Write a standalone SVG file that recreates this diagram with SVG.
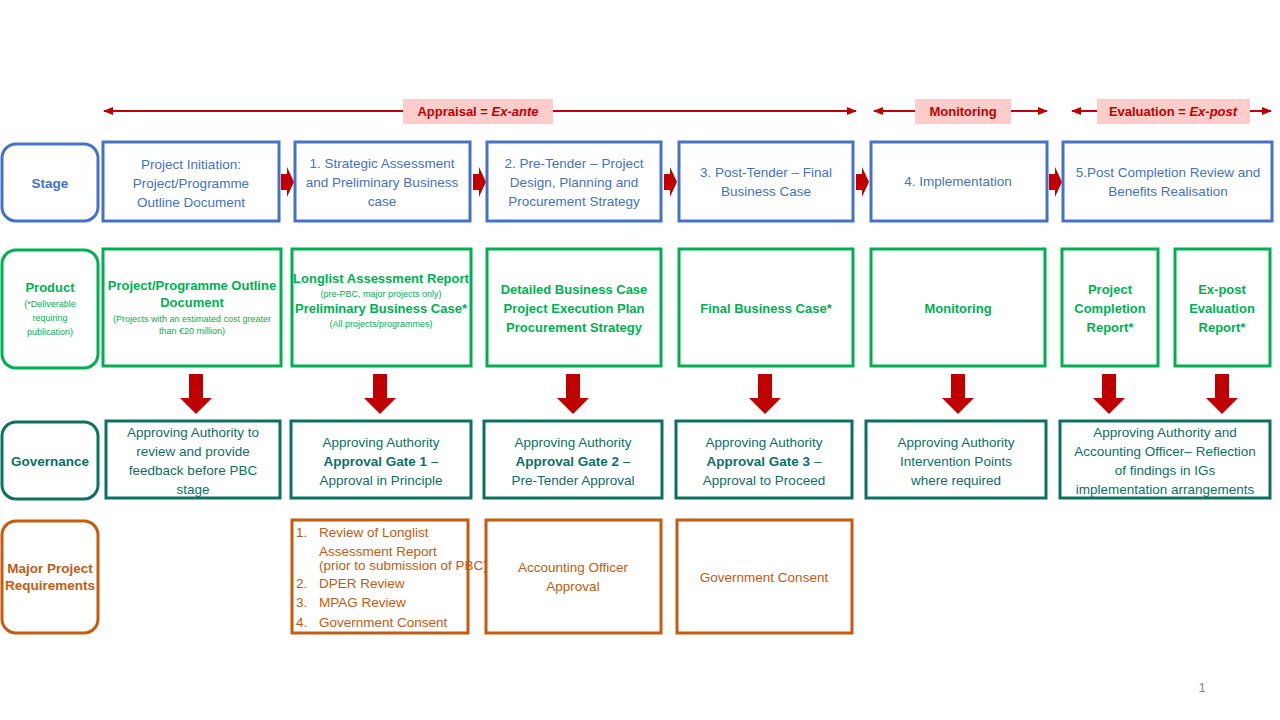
<svg xmlns="http://www.w3.org/2000/svg" width="1280" height="720" viewBox="0 0 1280 720">
<style>
text{font-family:"Liberation Sans",Arial,sans-serif;text-anchor:middle}
.b{fill:#fff;stroke:#4472C4;stroke-width:3}
.bt{fill:#4472C4;font-size:13.5px}
.g{fill:#fff;stroke:#00B050;stroke-width:3}
.gt{fill:#00B050;font-size:13px;font-weight:bold}
.gs{fill:#00B050;font-size:9px}
.t{fill:#fff;stroke:#0E7060;stroke-width:3}
.tt{fill:#0E7060;font-size:13.5px}
.o{fill:#fff;stroke:#C55A11;stroke-width:3}
.ot{fill:#C55A11;font-size:13.5px}
.lab{fill:#FFCCCC}
.lt{fill:#C00000;font-size:13px;font-weight:bold}
.ln{stroke:#C00000;stroke-width:2;fill:none;marker-start:url(#ah);marker-end:url(#ah)}
.ra{fill:#C00000}
</style>
<defs>
<marker id="ah" viewBox="0 0 10 10" refX="9" refY="5" markerWidth="5" markerHeight="5" orient="auto-start-reverse"><path d="M0,1 L10,5 L0,9 z" fill="#C00000"/></marker>
</defs>
<rect width="1280" height="720" fill="#fff"/>
<g id="connectors">
<line class="ln" x1="104" y1="111" x2="856" y2="111"/>
<line class="ln" x1="874" y1="111" x2="1047" y2="111"/>
<line class="ln" x1="1072" y1="111" x2="1271" y2="111"/>
<path class="ra" d="M281,174 h6 v-7 l7,15 l-7,15 v-7 h-6 z"/>
<path class="ra" d="M473,174 h6 v-7 l7,15 l-7,15 v-7 h-6 z"/>
<path class="ra" d="M664,174 h6 v-7 l7,15 l-7,15 v-7 h-6 z"/>
<path class="ra" d="M856,174 h6 v-7 l7,15 l-7,15 v-7 h-6 z"/>
<path class="ra" d="M1049,174 h6 v-7 l7,15 l-7,15 v-7 h-6 z"/>
<path class="ra" d="M189,374 h14 v24 h9 l-16,16 l-16,-16 h9 z"/>
<path class="ra" d="M373,374 h14 v24 h9 l-16,16 l-16,-16 h9 z"/>
<path class="ra" d="M566,374 h14 v24 h9 l-16,16 l-16,-16 h9 z"/>
<path class="ra" d="M758,374 h14 v24 h9 l-16,16 l-16,-16 h9 z"/>
<path class="ra" d="M951,374 h14 v24 h9 l-16,16 l-16,-16 h9 z"/>
<path class="ra" d="M1102,374 h14 v24 h9 l-16,16 l-16,-16 h9 z"/>
<path class="ra" d="M1215,374 h14 v24 h9 l-16,16 l-16,-16 h9 z"/>
</g>
<g id="phase-appraisal"><rect class="lab" x="403" y="99" width="150" height="25"/><text class="lt" x="478" y="116">Appraisal = <tspan font-style="italic">Ex-ante</tspan></text></g>
<g id="phase-monitoring"><rect class="lab" x="915" y="99" width="96" height="25"/><text class="lt" x="963" y="116">Monitoring</text></g>
<g id="phase-evaluation"><rect class="lab" x="1097" y="99" width="153" height="25"/><text class="lt" x="1173" y="116">Evaluation = <tspan font-style="italic">Ex-post</tspan></text></g>

<g id="lbl-stage"><rect class="b" x="2" y="144" width="96" height="77" rx="14"/><text class="bt" x="50" y="188" font-weight="bold" font-size="13">Stage</text></g>
<g id="stage1"><rect class="b" x="103" y="142" width="176" height="79"/><text class="bt" x="191" y="169">Project Initiation:</text><text class="bt" x="191" y="188">Project/Programme</text><text class="bt" x="191" y="207">Outline Document</text></g>
<g id="stage2"><rect class="b" x="295" y="142" width="175" height="79"/><text class="bt" x="382" y="168">1. Strategic Assessment</text><text class="bt" x="382" y="187">and Preliminary Business</text><text class="bt" x="382" y="206">case</text></g>
<g id="stage3"><rect class="b" x="487" y="142" width="174" height="79"/><text class="bt" x="574" y="168">2. Pre-Tender – Project</text><text class="bt" x="574" y="187">Design, Planning and</text><text class="bt" x="574" y="206">Procurement Strategy</text></g>
<g id="stage4"><rect class="b" x="679" y="142" width="174" height="79"/><text class="bt" x="766" y="177">3. Post-Tender – Final</text><text class="bt" x="766" y="196">Business Case</text></g>
<g id="stage5"><rect class="b" x="871" y="142" width="176" height="79"/><text class="bt" x="958" y="186">4. Implementation</text></g>
<g id="stage6"><rect class="b" x="1063" y="142" width="209" height="79"/><text class="bt" x="1168" y="177">5.Post Completion Review and</text><text class="bt" x="1168" y="196">Benefits Realisation</text></g>

<g id="lbl-product"><rect class="g" x="2" y="250" width="96" height="118" rx="14"/><text class="gt" x="50" y="292">Product</text><text class="gs" x="50" y="307" font-size="10.5">(*Deliverable</text><text class="gs" x="50" y="321" font-size="10.5">requiring</text><text class="gs" x="50" y="335" font-size="10.5">publication)</text></g>
<g id="prod1"><rect class="g" x="103" y="249" width="178" height="117"/><text class="gt" x="192" y="290">Project/Programme Outline</text><text class="gt" x="192" y="307">Document</text><text class="gs" x="192" y="322">(Projects with an estimated cost greater</text><text class="gs" x="192" y="334">than €20 million)</text></g>
<g id="prod2"><rect class="g" x="292" y="249" width="179" height="117"/><text class="gt" x="381" y="283">Longlist Assessment Report</text><text class="gs" x="381" y="297">(pre-PBC, major projects only)</text><text class="gt" x="381" y="313">Preliminary Business Case*</text><text class="gs" x="381" y="327">(All projects/programmes)</text></g>
<g id="prod3"><rect class="g" x="487" y="249" width="174" height="117"/><text class="gt" x="574" y="294">Detailed Business Case</text><text class="gt" x="574" y="313">Project Execution Plan</text><text class="gt" x="574" y="332">Procurement Strategy</text></g>
<g id="prod4"><rect class="g" x="679" y="249" width="174" height="117"/><text class="gt" x="766" y="313">Final Business Case*</text></g>
<g id="prod5"><rect class="g" x="871" y="249" width="174" height="117"/><text class="gt" x="958" y="313">Monitoring</text></g>
<g id="prod6"><rect class="g" x="1062" y="249" width="96" height="117"/><text class="gt" x="1110" y="294">Project</text><text class="gt" x="1110" y="313">Completion</text><text class="gt" x="1110" y="332">Report*</text></g>
<g id="prod7"><rect class="g" x="1175" y="249" width="95" height="117"/><text class="gt" x="1222" y="294">Ex-post</text><text class="gt" x="1222" y="313">Evaluation</text><text class="gt" x="1222" y="332">Report*</text></g>

<g id="lbl-governance"><rect class="t" x="2" y="422" width="96" height="77" rx="14"/><text class="tt" x="50" y="466" font-weight="bold" font-size="13">Governance</text></g>
<g id="gov1"><rect class="t" x="106" y="421" width="174" height="77"/><text class="tt" x="193" y="437">Approving Authority to</text><text class="tt" x="193" y="456">review and provide</text><text class="tt" x="193" y="475">feedback before PBC</text><text class="tt" x="193" y="494">stage</text></g>
<g id="gov2"><rect class="t" x="291" y="421" width="180" height="77"/><text class="tt" x="381" y="447">Approving Authority</text><text class="tt" x="381" y="466"><tspan font-weight="bold">Approval Gate 1</tspan> –</text><text class="tt" x="381" y="485">Approval in Principle</text></g>
<g id="gov3"><rect class="t" x="484" y="421" width="178" height="77"/><text class="tt" x="573" y="447">Approving Authority</text><text class="tt" x="573" y="466"><tspan font-weight="bold">Approval Gate 2</tspan> –</text><text class="tt" x="573" y="485">Pre-Tender Approval</text></g>
<g id="gov4"><rect class="t" x="676" y="421" width="176" height="77"/><text class="tt" x="764" y="447">Approving Authority</text><text class="tt" x="764" y="466"><tspan font-weight="bold">Approval Gate 3</tspan> –</text><text class="tt" x="764" y="485">Approval to Proceed</text></g>
<g id="gov5"><rect class="t" x="866" y="421" width="180" height="77"/><text class="tt" x="956" y="447">Approving Authority</text><text class="tt" x="956" y="466">Intervention Points</text><text class="tt" x="956" y="485">where required</text></g>
<g id="gov6"><rect class="t" x="1060" y="421" width="210" height="77"/><text class="tt" x="1165" y="437">Approving Authority and</text><text class="tt" x="1165" y="456">Accounting Officer– Reflection</text><text class="tt" x="1165" y="475">of findings in IGs</text><text class="tt" x="1165" y="494">implementation arrangements</text></g>

<g id="lbl-major"><rect class="o" x="2" y="521" width="96" height="112" rx="14"/><text class="ot" x="50" y="573" font-weight="bold" font-size="12">Major Project</text><text class="ot" x="50" y="590" font-weight="bold" font-size="12">Requirements</text></g>
<g id="mpr2"><rect class="o" x="292" y="520" width="176" height="113"/>
<g style="text-anchor:start"><text class="ot" x="296" y="537" style="text-anchor:start">1.</text><text class="ot" x="319" y="537" style="text-anchor:start">Review of Longlist</text><text class="ot" x="319" y="556" style="text-anchor:start">Assessment Report</text><text class="ot" x="319" y="570" style="text-anchor:start" font-size="9">(prior to submission of PBC)</text><text class="ot" x="296" y="588" style="text-anchor:start">2.</text><text class="ot" x="319" y="588" style="text-anchor:start">DPER Review</text><text class="ot" x="296" y="607" style="text-anchor:start">3.</text><text class="ot" x="319" y="607" style="text-anchor:start">MPAG Review</text><text class="ot" x="296" y="627" style="text-anchor:start">4.</text><text class="ot" x="319" y="627" style="text-anchor:start">Government Consent</text></g></g>
<g id="mpr3"><rect class="o" x="486" y="520" width="175" height="113"/><text class="ot" x="573" y="572">Accounting Officer</text><text class="ot" x="573" y="591">Approval</text></g>
<g id="mpr4"><rect class="o" x="677" y="520" width="175" height="113"/><text class="ot" x="764" y="582">Government Consent</text></g>
<text x="1202" y="692" fill="#888" font-size="13">1</text>
</svg>
